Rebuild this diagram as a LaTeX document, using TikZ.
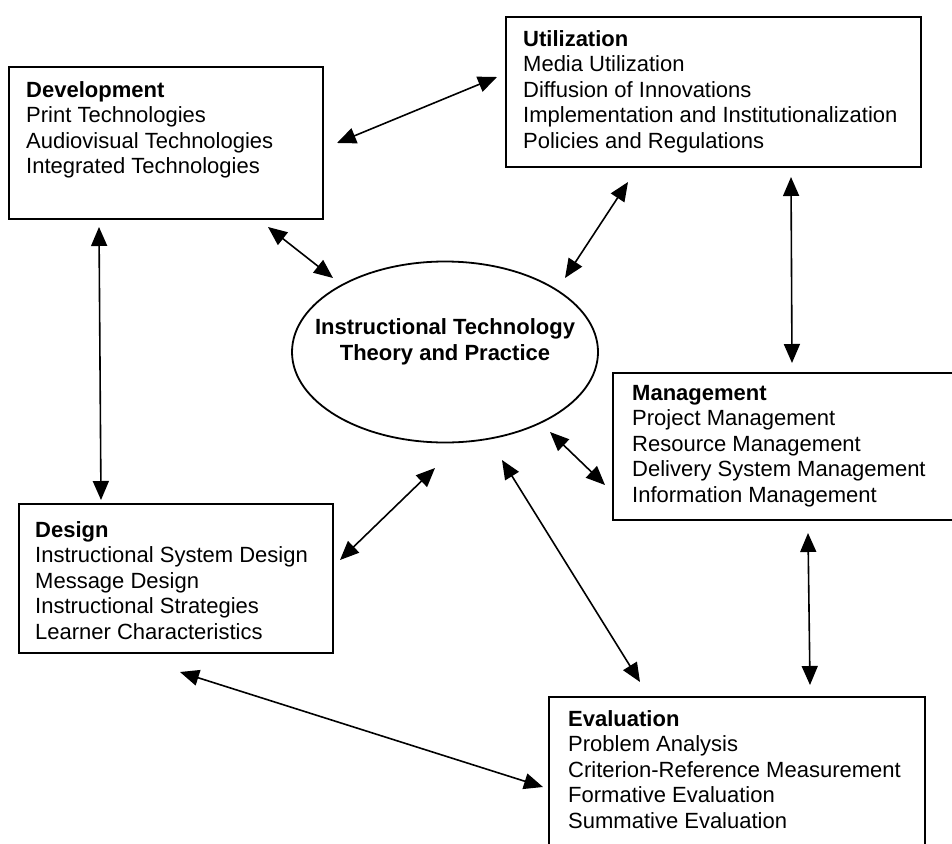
\documentclass[tikz,border=0pt]{standalone}
\usepackage{fontspec}
\setmainfont{Liberation Sans}
\usetikzlibrary{arrows.meta,shapes.geometric}
\begin{document}
\begin{tikzpicture}[x=1pt,y=-1pt,
  box/.style={draw, line width=1.8pt, rectangle, inner sep=0pt, anchor=north west},
  txt/.style={anchor=north west, inner sep=0pt, align=left, font=\fontsize{22}{25.5}\selectfont},
  conn/.style={line width=1.6pt, {Triangle[length=19pt,width=16pt]}-{Triangle[length=19pt,width=16pt]}}]
\useasboundingbox (0,0) rectangle (952,843);
\fill[white] (0,0) rectangle (952,843);
\clip (0,0) rectangle (952,843);
% boxes
\node[box, minimum width=314pt, minimum height=152pt] (dev) at (8,66) {};
\node[box, minimum width=415pt, minimum height=150pt] (util) at (505,16) {};
\node[box, minimum width=360pt, minimum height=147pt] (mgmt) at (612,372) {};
\node[box, minimum width=314pt, minimum height=149pt] (design) at (18,503) {};
\node[box, minimum width=376pt, minimum height=170pt] (eval) at (548,696) {};
\node[draw, ellipse, line width=1.8pt, inner sep=0pt, minimum width=306pt, minimum height=181pt] (itp) at (445,352) {};
% texts
\node[txt] (devtxt) at (26,79) {\strut\textbf{Development}\\Print Technologies\\Audiovisual Technologies\\Integrated Technologies};
\node[txt] (utiltxt) at (523,28) {\strut\textbf{Utilization}\\Media Utilization\\Diffusion of Innovations\\Implementation and Institutionalization\\Policies and Regulations};
\node[txt] (mgmttxt) at (632,382) {\strut\textbf{Management}\\Project Management\\Resource Management\\Delivery System Management\\Information Management};
\node[txt] (designtxt) at (35,519) {\strut\textbf{Design}\\Instructional System Design\\Message Design\\Instructional Strategies\\Learner Characteristics};
\node[txt] (evaltxt) at (568,708) {\strut\textbf{Evaluation}\\Problem Analysis\\Criterion-Reference Measurement\\Formative Evaluation\\Summative Evaluation};
\node[align=center, inner sep=0pt, font=\fontsize{22}{26}\selectfont\bfseries] (itptxt) at (445,342) {Instructional Technology\\Theory and Practice};
% connector ends
\coordinate (c1a) at (337,143); \coordinate (c1b) at (497,77);
\coordinate (c2a) at (268,227); \coordinate (c2b) at (333,278);
\coordinate (c3a) at (99,227);  \coordinate (c3b) at (101,500);
\coordinate (c4a) at (628,182); \coordinate (c4b) at (565,278);
\coordinate (c5a) at (791,177); \coordinate (c5b) at (792,363);
\coordinate (c6a) at (550,432); \coordinate (c6b) at (605,485);
\coordinate (c7a) at (435,468); \coordinate (c7b) at (340,560);
\coordinate (c8a) at (502,460); \coordinate (c8b) at (640,682);
\coordinate (c9a) at (808,533); \coordinate (c9b) at (810,685);
\coordinate (c10a) at (180,672); \coordinate (c10b) at (543,787);
\draw[conn] (c1a) -- (c1b);
\draw[conn] (c2a) -- (c2b);
\draw[conn] (c3a) -- (c3b);
\draw[conn] (c4a) -- (c4b);
\draw[conn] (c5a) -- (c5b);
\draw[conn] (c6a) -- (c6b);
\draw[conn] (c7a) -- (c7b);
\draw[conn] (c8a) -- (c8b);
\draw[conn] (c9a) -- (c9b);
\draw[conn] (c10a) -- (c10b);
\end{tikzpicture}
\end{document}
